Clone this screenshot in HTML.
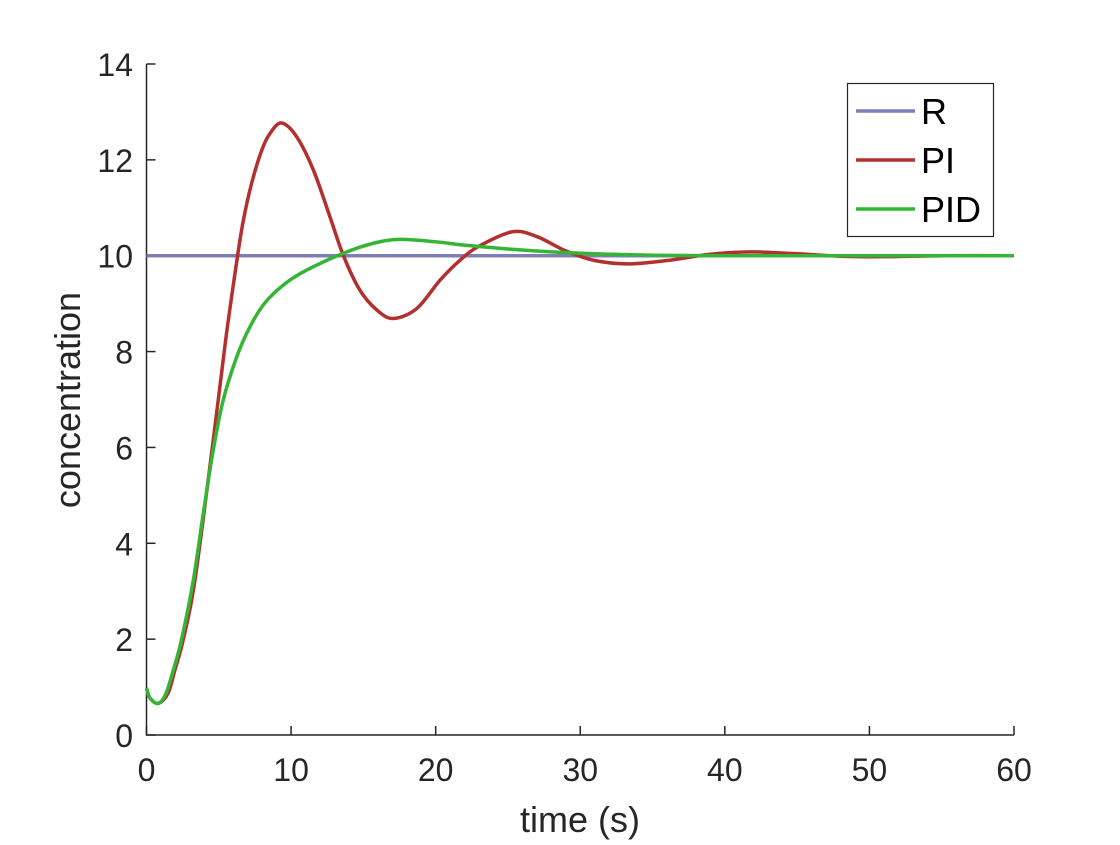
<!DOCTYPE html>
<html><head><meta charset="utf-8"><style>
html,body{margin:0;padding:0;background:#fff;}
svg text{font-family:"Liberation Sans",Helvetica,Arial,sans-serif;fill:#262626;}
</style></head><body>
<svg id="chart" width="1120" height="840" xmlns="http://www.w3.org/2000/svg">
<g id="axes"></g>
<g id="series"></g>
<g id="legend"></g>
</svg>
<script>
const xTicks=[0,10,20,30,40,50,60];
const yTicks=[0,2,4,6,8,10,12,14];
const rT=[0,60];
const rV=[10,10];
const piT=[0,0.24,0.82,1.49,1.97,2.55,3.35,4.62,5.5,6.3,6.7,7.27,7.97,8.54,9.35,10.39,11.54,12.69,13.62,14.76,15.92,17.07,18.7,20.3,21.7,23,25.3,27,29,31,33.3,36,39,41.8,45,48,51,55,60];
const piV=[0.98,0.77,0.66,0.87,1.36,2,3.23,6.16,8.3,10,10.74,11.51,12.2,12.55,12.77,12.48,11.79,10.81,10,9.28,8.87,8.69,8.9,9.49,9.91,10.2,10.5,10.4,10.1,9.9,9.83,9.9,10.03,10.08,10.04,9.99,9.98,10,10];
const pidT=[0,0.24,0.82,1.35,1.86,2.43,3.24,3.93,4.62,5.31,6.24,7.16,8.2,9.6,11.08,13.6,15.7,17.5,20,22,25,28,31,35,40,50,60];
const pidV=[0.98,0.77,0.66,0.87,1.36,2,3.23,4.63,5.95,6.99,7.89,8.52,9.02,9.42,9.7,10.05,10.26,10.34,10.29,10.22,10.14,10.08,10.04,10.01,10,10,10];
const X0=146.5,X1=1014,Y0=735,Y1=64;
const sx=t=>X0+(t-0)/(60-0)*(X1-X0);
const sy=v=>Y0-(v-0)/(14-0)*(Y0-Y1);
const NS="http://www.w3.org/2000/svg";
function mk(tag,attrs,parent){const e=document.createElementNS(NS,tag);for(const k in attrs)e.setAttribute(k,attrs[k]);parent.appendChild(e);return e;}
const axes=document.getElementById('axes');
let a=mk('path',{d:`M${X0},${Y1}V${Y0}H${X1}`,fill:'none',stroke:'#262626','stroke-width':1.5},axes);


xTicks.forEach(t=>{
 let l=mk('line',{x1:sx(t),x2:sx(t),y1:Y0,y2:Y0-9,stroke:'#262626','stroke-width':1.5},axes);
 
 
 let tx=mk('text',{x:sx(t),y:781,'text-anchor':'middle','font-size':32},axes);tx.textContent=t;
 
 
});
yTicks.forEach(v=>{
 let l=mk('line',{x1:X0,x2:X0+9,y1:sy(v),y2:sy(v),stroke:'#262626','stroke-width':1.5},axes);
 
 
 let tx=mk('text',{x:133,y:sy(v)+12,'text-anchor':'end','font-size':32},axes);tx.textContent=v;
 
 
});
let xl=mk('text',{x:580,y:832,'text-anchor':'middle','font-size':36},axes);xl.textContent='time (s)';


let yl=mk('text',{x:0,y:0,'text-anchor':'middle','font-size':36,transform:'translate(80,400) rotate(-90)'},axes);yl.textContent='concentration';


function smooth(T,V){
 const p=T.map((t,i)=>[sx(t),sy(V[i])]);
 let d=`M${p[0][0]},${p[0][1]}`;
 for(let i=0;i<p.length-1;i++){
  const p0=p[i-1]||p[i],p1=p[i],p2=p[i+1],p3=p[i+2]||p2;
  const c1=[p1[0]+(p2[0]-p0[0])/6,p1[1]+(p2[1]-p0[1])/6];
  const c2=[p2[0]-(p3[0]-p1[0])/6,p2[1]-(p3[1]-p1[1])/6];
  d+=`C${c1[0]},${c1[1]} ${c2[0]},${c2[1]} ${p2[0]},${p2[1]}`;
 }
 return d;
}
const ser=document.getElementById('series');
const defs=[[rT,rV,'#7f7fb8','series-r'],[piT,piV,'#b2302e','series-pi'],[pidT,pidV,'#35b535','series-pid']];
defs.forEach(s=>{
 let p=mk('path',{d:smooth(s[0],s[1]),fill:'none',stroke:s[2],'stroke-width':3.5,'stroke-linejoin':'round'},ser);
 
 
});
const lg=document.getElementById('legend');
let box=mk('rect',{x:847.5,y:83.5,width:146,height:153,fill:'#fff',stroke:'#262626','stroke-width':1.2},lg);


const names=['R','PI','PID'],ly=[111,160,209];
names.forEach((n,i)=>{
 let l=mk('line',{x1:856,x2:915,y1:ly[i],y2:ly[i],stroke:defs[i][2],'stroke-width':3.5},lg);
 
 
 let t=mk('text',{x:921,y:ly[i]+13,'font-size':36},lg);t.textContent=n;
 t.style.fill='#000';
 
 
});
</script>
</body></html>
